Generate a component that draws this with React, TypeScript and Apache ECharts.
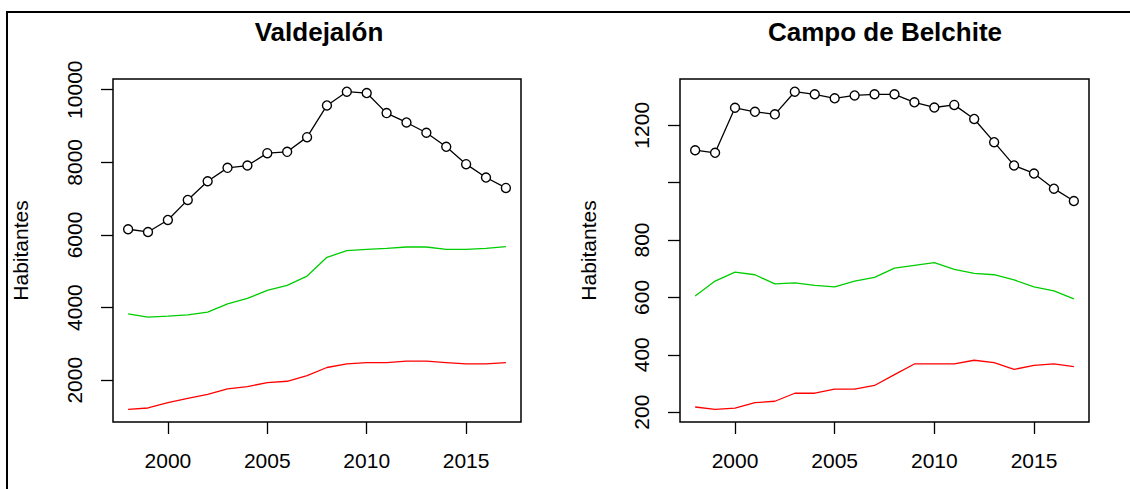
import React, { useEffect, useRef } from "react";
import * as echarts from "echarts";

const years = [1998, 1999, 2000, 2001, 2002, 2003, 2004, 2005, 2006, 2007, 2008, 2009, 2010, 2011, 2012, 2013, 2014, 2015, 2016, 2017];

const valTotal = [6157, 6082, 6413, 6965, 7480, 7848, 7912, 8253, 8289, 8694, 9567, 9945, 9908, 9356, 9098, 8814, 8427, 7950, 7581, 7296];
const valGreen = [3829, 3737, 3765, 3801, 3875, 4104, 4253, 4473, 4611, 4868, 5384, 5567, 5604, 5632, 5668, 5668, 5604, 5604, 5632, 5677];
const valRed = [1199, 1235, 1384, 1502, 1613, 1759, 1824, 1935, 1971, 2129, 2350, 2449, 2487, 2487, 2523, 2523, 2487, 2449, 2449, 2487];

const belTotal = [1113, 1104, 1261, 1247, 1238, 1317, 1308, 1294, 1304, 1308, 1308, 1280, 1262, 1271, 1222, 1141, 1060, 1032, 979, 936];
const belGreen = [605, 657, 688, 679, 647, 651, 642, 637, 657, 670, 702, 712, 721, 698, 684, 679, 661, 637, 623, 595];
const belRed = [218, 210, 214, 233, 238, 266, 266, 280, 280, 293, 331, 368, 368, 368, 381, 373, 349, 363, 368, 359];

const xTicks = [2000, 2005, 2010, 2015];
const valYTicks = [2000, 4000, 6000, 8000, 10000];
const valYLabels = [2000, 4000, 6000, 8000, 10000];
const belYTicks = [200, 400, 600, 800, 1000, 1200];
const belYLabels = [200, 400, 600, 800, 1200];

const titles = ["Valdejalón", "Campo de Belchite"];
const yName = "Habitantes";

const FONT = "'Liberation Sans', Arial, Helvetica, sans-serif";

function rRange(arrs: number[][]) {
  const all = arrs.flat();
  const lo = Math.min(...all);
  const hi = Math.max(...all);
  const pad = (hi - lo) * 0.04;
  return [lo - pad, hi + pad];
}

export default function App() {
  const ref = useRef<HTMLDivElement>(null);
  useEffect(() => {
    if (!ref.current) return;
    const chart = echarts.init(ref.current, null, { renderer: "svg" });
    const xr = rRange([years]);
    const y1 = rRange([valTotal, valGreen, valRed]);
    const y2 = rRange([belTotal, belGreen, belRed]);
    const grids = [
      { left: 113, top: 79, width: 408, height: 343 },
      { left: 680, top: 79, width: 409, height: 343 },
    ];
    const fmt = (v: number) => String(Math.round(v));
    const mkX = (i: number) => ({
      type: "value",
      gridIndex: i,
      min: xr[0],
      max: xr[1],
      axisLine: { show: false },
      splitLine: { show: false },
      axisTick: { show: true, length: 12, customValues: xTicks, lineStyle: { color: "#000", width: 1.3 } },
      axisLabel: { customValues: xTicks, formatter: fmt, margin: 28, color: "#000", fontSize: 21, fontFamily: FONT, verticalAlign: "top" },
    });
    const mkY = (i: number, r: number[], ticks: number[], labels: number[], gap: number) => ({
      type: "value",
      gridIndex: i,
      min: r[0],
      max: r[1],
      name: yName,
      nameLocation: "middle",
      nameGap: gap,
      nameRotate: 90,
      nameTextStyle: { color: "#000", fontSize: 21, fontFamily: FONT },
      axisLine: { show: false },
      splitLine: { show: false },
      axisTick: { show: true, length: 12, customValues: ticks, lineStyle: { color: "#000", width: 1.3 } },
      axisLabel: {
        customValues: labels,
        formatter: fmt,
        rotate: 90,
        margin: 28,
        color: "#000",
        fontSize: 21,
        fontFamily: FONT,
        align: "center",
        verticalAlign: "bottom",
      },
    });
    const line = (data: number[], color: string, xi: number, pts: boolean) => ({
      type: "line",
      xAxisIndex: xi,
      yAxisIndex: xi,
      data: years.map((y, k) => [y, data[k]]),
      showSymbol: pts,
      symbol: pts ? "circle" : "none",
      symbolSize: 9,
      itemStyle: { color: "#fff", borderColor: color, borderWidth: 1.4 },
      lineStyle: { color, width: 1.3 },
      z: pts ? 3 : 2,
      silent: true,
    });
    chart.setOption({
      animation: false,
      backgroundColor: "#fff",
      graphic: [
        { type: "rect", shape: { x: 7, y: 12, width: 1300, height: 700 }, style: { fill: "none", stroke: "#000", lineWidth: 2 }, silent: true },
      ],
      title: [
        { text: titles[0], left: 314, top: 14, textAlign: "center", textStyle: { fontSize: 26, fontWeight: "bold", color: "#000", fontFamily: FONT } },
        { text: titles[1], left: 880, top: 14, textAlign: "center", textStyle: { fontSize: 26, fontWeight: "bold", color: "#000", fontFamily: FONT } },
      ],
      grid: grids.map((g) => ({ ...g, show: true, borderColor: "#000", borderWidth: 1.5, backgroundColor: "transparent" })),
      xAxis: [mkX(0), mkX(1)],
      yAxis: [mkY(0, y1, valYTicks, valYLabels, 82), mkY(1, y2, belYTicks, belYLabels, 81)],
      series: [
        line(valTotal, "#000", 0, true),
        line(valGreen, "#00CD00", 0, false),
        line(valRed, "#FF0000", 0, false),
        line(belTotal, "#000", 1, true),
        line(belGreen, "#00CD00", 1, false),
        line(belRed, "#FF0000", 1, false),
      ],
    });
    return () => chart.dispose();
  }, []);
  return <div ref={ref} style={{ position: "absolute", left: 0, top: 0, width: 1130, height: 489, background: "#fff" }} />;
}
